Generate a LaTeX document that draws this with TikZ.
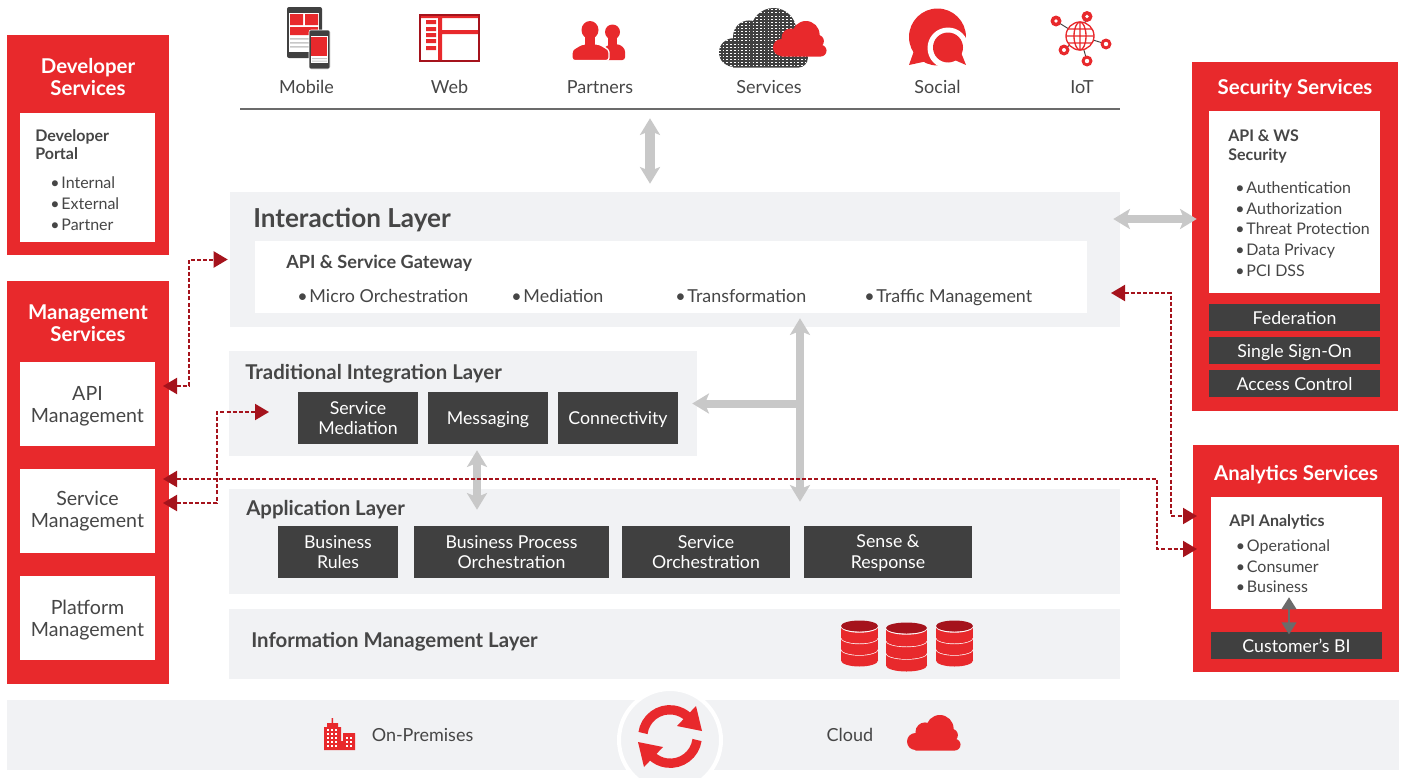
\documentclass[tikz,border=0pt]{standalone}
\usepackage{fontspec}
\setmainfont{Lato}
\usetikzlibrary{arrows.meta}

\definecolor{brandred}{HTML}{E8292C}
\definecolor{deepred}{HTML}{A5131C}
\definecolor{darkbox}{HTML}{404040}
\definecolor{bodytext}{HTML}{464646}
\definecolor{layergray}{HTML}{F1F2F4}
\definecolor{arrowgray}{HTML}{C8C8C8}

\newcommand{\fpx}[1]{\fontsize{#1}{#1}\selectfont}
\newcommand{\dotmark}{•\hspace{1.4pt}}
\newcommand{\cloudshape}{(16,50) circle (16) (34,32) circle (18) (62,26) circle (26) (84,38) circle (12) (90,56) circle (11) (90,40) rectangle (16,67)}
\newcommand{\dbdisk}[4]{% centre x, top y, x radius, lower y
  \fill[brandred] (#1-#3,#2) rectangle (#1+#3,#4);
  \fill[brandred] (#1,#4) ellipse [x radius=#3, y radius=6];
  \draw[white, line width=1pt] (#1-#3,#2) arc [start angle=180, end angle=0, x radius=#3, y radius=6];
}
\newcommand{\dbicon}[4]{% centre x, top y, x radius, disk height
  \dbdisk{#1}{#2+2*#4}{#3}{#2+3*#4}
  \dbdisk{#1}{#2+#4}{#3}{#2+2*#4}
  \dbdisk{#1}{#2}{#3}{#2+#4}
  \fill[deepred] (#1,#2) ellipse [x radius=#3, y radius=5.5];
}

\tikzset{
  size/.style 2 args={minimum width=#1*0.75pt, minimum height=#2*0.75pt, inner sep=0pt},
  redpanel/.style={rectangle, fill=brandred},
  whitepanel/.style={rectangle, fill=white, text=bodytext, align=center, text depth=0pt, font=\fpx{14.7}\linespread{1.12}\selectfont},
  blackbox/.style={rectangle, fill=darkbox, text=white, align=center, text depth=0pt, font=\fpx{13.3}\linespread{1.18}\selectfont},
  layerbox/.style={rectangle, fill=layergray},
  paneltitle/.style={text=white, align=center, inner sep=0pt, font=\bfseries\fpx{15.3}\linespread{1.07}\selectfont},
  layertitle/.style={text=bodytext, anchor=west, inner sep=0pt, font=\bfseries\fpx{15.3}},
  subtitle/.style={text=bodytext, anchor=north west, align=left, inner sep=0pt, font=\bfseries\fpx{12}\linespread{1.14}\selectfont},
  bulletlist/.style={text=bodytext, anchor=north west, align=left, inner sep=0pt, font=\fpx{12}\linespread{1.31}\selectfont},
  gatewayitem/.style={text=bodytext, anchor=west, inner sep=0pt, text height=10pt, text depth=3pt, font=\fpx{13.4}},
  channel/.style={text=bodytext, inner sep=0pt, font=\fpx{13.5}},
  graylink/.style={draw=arrowgray, line width=6pt, {Stealth[length=12.5pt,width=15pt,inset=3pt]}-{Stealth[length=12.5pt,width=15pt,inset=3pt]}},
  graystub/.style={draw=arrowgray, line width=6pt, -{Stealth[length=12.5pt,width=15pt,inset=3pt]}},
  redlink/.style={draw=deepred, line width=1.5pt, dash pattern=on 3pt off 1.6pt, {Triangle[length=10.5pt,width=12pt]}-{Triangle[length=10.5pt,width=12pt]}},
}

\begin{document}
\begin{tikzpicture}[x=0.75pt, y=-0.75pt]
\clip (0,0) rectangle (1403,778);

% left panels
\node[redpanel, size={162}{220}] (devsvc) at (88,145) {};
\node[paneltitle] (devtitle) at (88,77) {Developer\\Services};
\node[whitepanel, size={135}{129}] (devportal) at (87.5,177.5) {};
\node[subtitle] (devportalname) at (35,129.5) {Developer\\Portal};
\node[bulletlist] (devportallist) at (50,176.5) {\dotmark Internal\\\dotmark External\\\dotmark Partner};

\node[redpanel, size={162}{403}] (mgmtsvc) at (88,482.5) {};
\node[paneltitle] (mgmttitle) at (88,323) {Management\\Services};
\node[whitepanel, size={135}{84}] (apimgmt) at (87.5,404) {API\\Management};
\node[whitepanel, size={135}{84}, text depth=3pt] (svcmgmt) at (87.5,511) {Service\\Management};
\node[whitepanel, size={135}{84}] (platmgmt) at (87.5,618) {Platform\\Management};

% right panels
\node[redpanel, size={206}{349}] (secsvc) at (1295,236.5) {};
\node[paneltitle] (sectitle) at (1295,88.5) {Security Services};
\node[whitepanel, size={171}{182}] (apisec) at (1294.5,202) {};
\node[subtitle] (apisecname) at (1228,130) {API \& WS\\Security};
\node[bulletlist] (apiseclist) at (1235,181) {\dotmark Authentication\\\dotmark Authorization\\\dotmark Threat Protection\\\dotmark Data Privacy\\\dotmark PCI DSS};
\node[blackbox, size={171}{27}] (federation) at (1294.5,317.5) {Federation};
\node[blackbox, size={171}{27}] (sso) at (1294.5,350.5) {Single Sign-On};
\node[blackbox, size={171}{27}] (access) at (1294.5,383.5) {Access Control};

\node[redpanel, size={206}{227}] (analytics) at (1296,558.5) {};
\node[paneltitle] (analyticstitle) at (1296,474.5) {Analytics Services};
\node[whitepanel, size={171}{112}] (apianalytics) at (1296.5,553) {};
\node[subtitle] (apianalyticsname) at (1229,514) {API Analytics};
\node[bulletlist] (apianalyticslist) at (1235.5,539) {\dotmark Operational\\\dotmark Consumer\\\dotmark Business};
\node[blackbox, size={171}{27}] (custbi) at (1296.5,645.5) {Customer’s BI};

% layers
\node[layerbox, size={890}{135}] (intlayer) at (675,259.5) {};
\node[layertitle, font=\bfseries\fpx{19.6}] (intname) at (253,220) {Interaction Layer};
\node[whitepanel, size={832}{72}] (gateway) at (671,277) {};
\node[layertitle, font=\bfseries\fpx{13.6}] (gatewayname) at (286,263.5) {API \& Service Gateway};
\node[gatewayitem] (microorch) at (297,298) {\dotmark Micro Orchestration};
\node[gatewayitem] (mediation) at (511,298) {\dotmark Mediation};
\node[gatewayitem] (transform) at (675,298) {\dotmark Transformation};
\node[gatewayitem] (traffic) at (864,298) {\dotmark Traffic Management};

\node[layerbox, size={468}{105}] (tradlayer) at (463,403.5) {};
\node[layertitle] (tradname) at (245,373.5) {Traditional Integration Layer};
\node[blackbox, size={120}{52}] (svcmed) at (358,418) {Service\\Mediation};
\node[blackbox, size={120}{52}] (messaging) at (488,418) {Messaging};
\node[blackbox, size={120}{52}] (connectivity) at (618,418) {Connectivity};

\node[layerbox, size={891}{105}] (applayer) at (674.5,541.5) {};
\node[layertitle] (appname) at (246,509.5) {Application Layer};
\node[blackbox, size={120}{52}] (bizrules) at (338,552) {Business\\Rules};
\node[blackbox, size={195}{52}] (bizproc) at (511.5,552) {Business Process\\Orchestration};
\node[blackbox, size={168}{52}] (svcorch) at (706,552) {Service\\Orchestration};
\node[blackbox, size={168}{52}] (sense) at (888,552) {Sense \&\\Response};

\node[layerbox, size={891}{70}] (infolayer) at (674.5,644) {};
\node[layertitle] (infoname) at (251,642) {Information Management Layer};
\dbicon{859.5}{626}{18.5}{11.5}
\dbicon{906.5}{628}{20.5}{12.5}
\dbicon{954.5}{626}{18.5}{11.5}

% bottom band
\node[layerbox, size={1392}{70}] (deploy) at (703,735) {};
\draw[white, line width=3pt, fill=layergray] (670,740) circle (51);
\node[channel] (onprem) at (422.5,735) {On-Premises};
\node[channel] (cloud) at (850,735) {Cloud};
\fill[brandred] (324,727) rectangle (341,750) (343,733) rectangle (355,750) (340,741) rectangle (344,750);
\fill[brandred] (327,723) rectangle (338,727) (331.5,718) rectangle (333,724);
\foreach \wx in {326.5,330.5,334.5} \foreach \wy in {729,733,737,741,745} \fill[white] (\wx,\wy) rectangle +(2.2,2.2);
\foreach \wx in {345.5,349.5} \foreach \wy in {737,741,745} \fill[white] (\wx,\wy) rectangle +(2.2,2.2);
\begin{scope}[shift={(907,715)}, scale=0.53]
\fill[brandred] \cloudshape;
\end{scope}
\draw[brandred, line width=7pt] (643,733) arc [start angle=188, end angle=315, radius=27];
\fill[brandred] (696,706) -- (702,731) -- (677,726) -- cycle;
\draw[brandred, line width=7pt] (697,740) arc [start angle=8, end angle=135, radius=27];
\fill[brandred] (644,767) -- (638,742) -- (663,747) -- cycle;

% channels
\node[fill=bodytext!80, minimum width=660pt, minimum height=1.5pt, inner sep=0pt] (toprule) at (680,109) {};
\node[channel] (mobile) at (306.5,87) {Mobile};
\node[channel] (web) at (449.5,87) {Web};
\node[channel] (partners) at (600,87) {Partners};
\node[channel] (services) at (769,87) {Services};
\node[channel] (social) at (937.5,87) {Social};
\node[channel] (iot) at (1082,87) {IoT};

% mobile icon
\fill[darkbox, rounded corners=1.5pt] (287,7) rectangle (322,58);
\fill[white] (289,13) rectangle (319,52);
\fill[brandred] (290,14) rectangle (303,25) (305,14) rectangle (318,25) (290,27) rectangle (318,35);
\fill[arrowgray] (290,38) rectangle (318,39.5) (290,42) rectangle (318,43.5) (290,46) rectangle (318,47.5);
\draw[white, fill=darkbox, rounded corners=1.5pt] (309,30) rectangle (330,69);
\fill[white] (311,36) rectangle (328,63);
\fill[brandred] (311,37) rectangle (327,56);
\fill[arrowgray] (312,58) rectangle (327,59) (312,60.5) rectangle (327,61.5);

% web icon
\draw[deepred, line width=1.5pt, fill=white] (420,15) rectangle (479,61);
\fill[brandred] (421,16) rectangle (478,18) (438,17) rectangle (442,60) (442,30) rectangle (478,34);
\fill[brandred] (426,20) rectangle (436,24) (426,27) rectangle (436,31) (426,33) rectangle (436,37) (426,39) rectangle (436,43) (426,46) rectangle (436,50);

% partners icon
\fill[brandred] (612.5,32) ellipse [x radius=7.5, y radius=7.5];
\fill[brandred, rounded corners=2pt] (605,60) -- (605,46) -- (619,44) -- (625,49) -- (625,60) -- cycle;
\fill[brandred] (608,36) rectangle (617,46);
\draw[white, line width=1pt, fill=brandred, rounded corners=2pt] (572,60.5) -- (572,50) -- (582,44) -- (599,44) -- (609,50) -- (609,60.5) -- cycle;
\fill[brandred] (590,30) ellipse [x radius=8.5, y radius=9];
\fill[brandred] (585,34) rectangle (595,46);

% services icon
\begin{scope}[shift={(719,8)}, xscale=0.88, yscale=0.89]
\fill[darkbox] \cloudshape;
\clip \cloudshape;
\foreach \ty in {2,5.5,...,68} \draw[white, line width=0.7pt, dash pattern=on 1.2pt off 1.6pt] (0,\ty) -- (100,\ty);
\end{scope}
\begin{scope}[shift={(773,21)}, scale=0.53]
\fill[brandred] \cloudshape;
\end{scope}

% social icon
\fill[brandred] (937.5,37) circle (28.5);
\fill[brandred] (909,65) -- (915,48) -- (932,60) -- cycle;
\fill[white] (948,48) circle (20.5);
\fill[brandred] (948,47.5) circle (15);
\fill[white] (966,32) rectangle (970,45);
\fill[brandred] (966,65) -- (950,58) -- (960,50) -- cycle;

% iot icon
\draw[darkbox, line width=0.7pt] (1056,21) -- (1080,36) (1087,16.5) -- (1080,36) (1106,44) -- (1080,36) (1087,61) -- (1080,36) (1064,50) -- (1080,36);
\draw[brandred, line width=1pt, fill=white] (1080,36) circle (14);
\draw[brandred, line width=1pt] (1080,36) ellipse [x radius=6, y radius=14] (1066,36) -- (1094,36) (1080,22) -- (1080,50) (1068,29) -- (1092,29) (1068,43) -- (1092,43);
\fill[brandred] (1056,21) circle (5.5) (1087,16.5) circle (5.5) (1106,44) circle (5.5) (1087,61) circle (5.5) (1064,50) circle (5.5);
\fill[white] (1056,21) circle (1.8) (1087,16.5) circle (1.8) (1106,44) circle (2.2) (1087,61) circle (2.2) (1064,50) circle (2);

% gray connectors
\coordinate (topx) at (650,0);
\coordinate (busx) at (800,0);
\coordinate (busjoin) at (800,403.5);
\coordinate (tradx) at (477,0);
\coordinate (secy) at (0,219);
\coordinate (bix) at (1289,0);
\draw[graylink, line width=7pt, shorten <=6pt, shorten >=6pt] (toprule.south -| topx) -- (intlayer.north -| topx);
\draw[graylink, shorten <=-6.75pt, shorten >=-9.75pt] (intlayer.south -| busx) -- (applayer.north -| busx);
\draw[graystub, shorten >=-3.75pt] (busjoin) -- (tradlayer.east);
\draw[graylink, shorten <=-4.5pt, shorten >=-15.75pt] (tradlayer.south -| tradx) -- (applayer.north -| tradx);
\draw[graylink, shorten <=-5.25pt, shorten >=-3.75pt] (intlayer.east |- secy) -- (secsvc.west |- secy);
\draw[draw=bodytext!80, line width=1.5pt, {Triangle[length=9pt,width=11pt]}-{Triangle[length=9pt,width=11pt]}, shorten <=-9pt, shorten >=-2pt] (apianalytics.south -| bix) -- (custbi.north -| bix);

% red dashed connectors
\coordinate (apiport) at (163,386);
\coordinate (medport) at (163,503);
\coordinate (mgmtport) at (163,479);
\coordinate (tradport) at (269,412);
\coordinate (gwport) at (1111,293);
\coordinate (anaportup) at (1197,516);
\coordinate (anaportlow) at (1197,549);
\coordinate (apilane) at (189,0);
\coordinate (medlane) at (217,0);
\coordinate (longlane) at (1157,0);
\coordinate (gwlane) at (1171,0);
\draw[redlink, shorten >=1.5pt] (apiport) -- (apiport -| apilane) -- (intlayer.west -| apilane) -- (intlayer.west);
\draw[redlink] (medport) -- (medport -| medlane) -- (tradport -| medlane) -- (tradport);
\draw[redlink] (mgmtport) -- (mgmtport -| longlane) -- (anaportlow -| longlane) -- (anaportlow);
\draw[redlink] (gwport) -- (gwport -| gwlane) -- (anaportup -| gwlane) -- (anaportup);
\end{tikzpicture}
\end{document}
